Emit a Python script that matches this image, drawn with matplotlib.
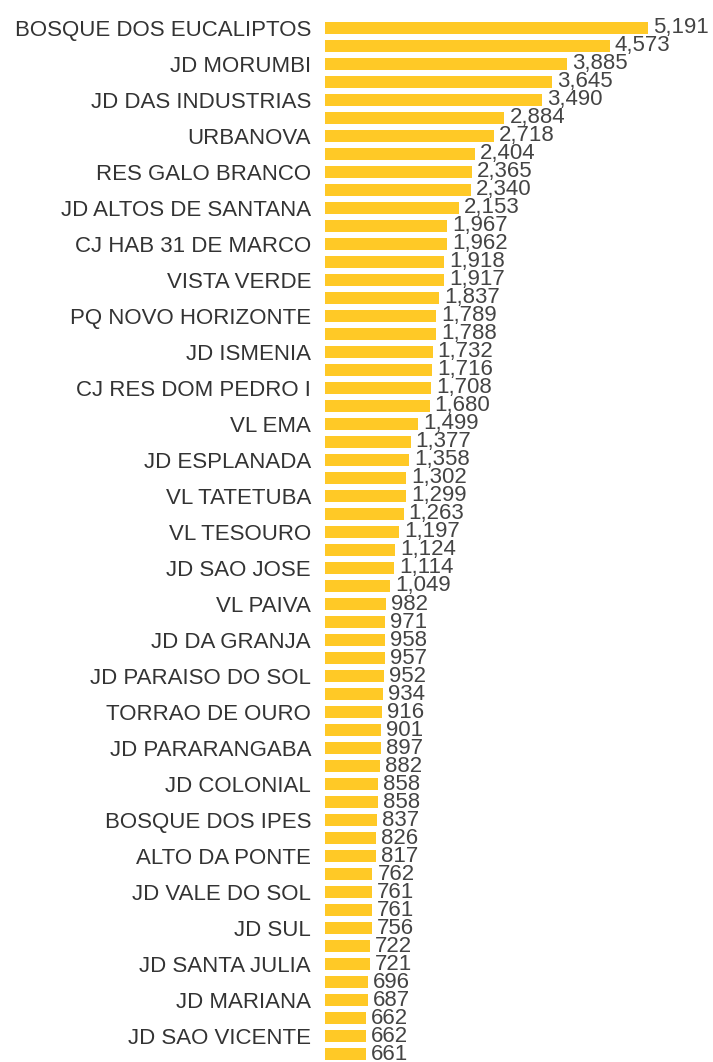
import matplotlib
matplotlib.use('Agg')
import matplotlib.pyplot as plt
import numpy as np

plt.rcParams['font.family'] = ['Liberation Sans', 'DejaVu Sans']

values = [5191, 4573, 3885, 3645, 3490, 2884, 2718, 2404, 2365, 2340,
          2153, 1967, 1962, 1918, 1917, 1837, 1789, 1788, 1732, 1716,
          1708, 1680, 1499, 1377, 1358, 1302, 1299, 1263, 1197, 1124,
          1114, 1049, 982, 971, 958, 957, 952, 934, 916, 901,
          897, 882, 858, 858, 837, 826, 817, 762, 761, 761,
          756, 722, 721, 696, 687, 662, 662, 661]

# only every other bar gets a name on the axis
shown_labels = ['BOSQUE DOS EUCALIPTOS', 'JD MORUMBI', 'JD DAS INDUSTRIAS', 'URBANOVA',
                'RES GALO BRANCO', 'JD ALTOS DE SANTANA', 'CJ HAB 31 DE MARCO', 'VISTA VERDE',
                'PQ NOVO HORIZONTE', 'JD ISMENIA', 'CJ RES DOM PEDRO I', 'VL EMA',
                'JD ESPLANADA', 'VL TATETUBA', 'VL TESOURO', 'JD SAO JOSE', 'VL PAIVA',
                'JD DA GRANJA', 'JD PARAISO DO SOL', 'TORRAO DE OURO', 'JD PARARANGABA',
                'JD COLONIAL', 'BOSQUE DOS IPES', 'ALTO DA PONTE', 'JD VALE DO SOL',
                'JD SUL', 'JD SANTA JULIA', 'JD MARIANA', 'JD SAO VICENTE']

W, H = 713, 1062
fig = plt.figure(figsize=(W / 100, H / 100), dpi=100)
ax = fig.add_axes([325 / W, (H - 1063) / H, 323 / W, 1044 / H])

y = np.arange(len(values))
ax.barh(y, values, height=0.68, color='#FFC926')
ax.set_xlim(0, max(values))
ax.set_ylim(len(values) - 0.5, -0.5)

for yi, v in zip(y, values):
    ax.text(v + 80, yi, f'{v:,}', va='center', ha='left', fontsize=16,
            color='#444444', clip_on=False)

ax.set_yticks(y[::2])
ax.set_yticklabels(shown_labels, fontsize=16, color='#333333')
ax.tick_params(axis='y', length=0, pad=10)
ax.set_xticks([])
for s in ax.spines.values():
    s.set_visible(False)

fig.savefig('out.png', dpi=100)
